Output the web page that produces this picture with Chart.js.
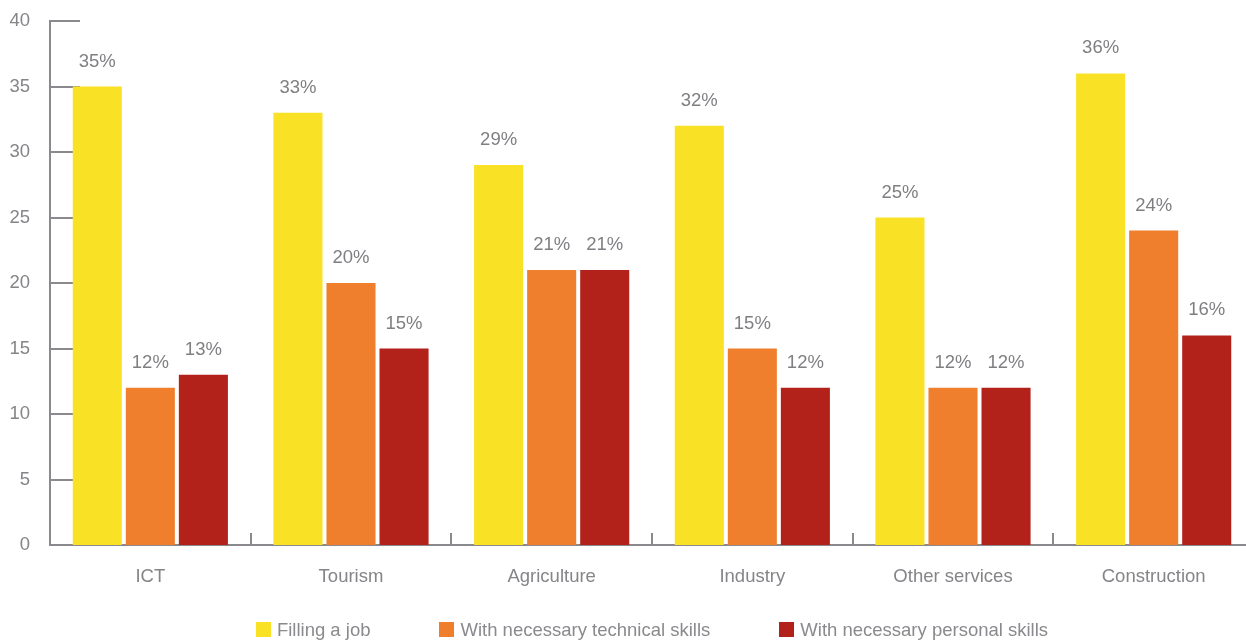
<!DOCTYPE html>
<html>
<head>
<meta charset="utf-8">
<script src="https://cdn.jsdelivr.net/npm/chart.js@4"></script>
<style>
  html, body { margin: 0; padding: 0; background: #fff; overflow: hidden; }
  #wrap { position: relative; width: 1254px; height: 640px; }
  #legend {
    position: absolute; left: 50px; width: 1204px; top: 619px;
    display: flex; justify-content: center; gap: 69px;
    font-family: "Liberation Sans", Arial, sans-serif; font-size: 18.5px; line-height: 21px; color: #8a8a8e;
  }
  #legend .item { display: flex; align-items: center; white-space: nowrap; }
  #legend .box { width: 15px; height: 15px; margin-right: 6px; }
</style>
</head>
<body>
<div id="wrap">
  <canvas id="chart"></canvas>
  <div id="legend"></div>
</div>
<script>
// Data
const categories = ["ICT", "Tourism", "Agriculture", "Industry", "Other services", "Construction"];
const seriesNames = ["Filling a job", "With necessary technical skills", "With necessary personal skills"];
const fillingJob = [35, 33, 29, 32, 25, 36];
const technicalSkills = [12, 20, 21, 15, 12, 24];
const personalSkills = [13, 15, 21, 12, 12, 16];
const yTicks = [0, 5, 10, 15, 20, 25, 30, 35, 40];

const colors = ["#f9e125", "#ef7f2c", "#b2221b"];
const axisColor = "#8a8a8e";
const textColor = "#858589";
const fontFamily = "'Liberation Sans', Arial, sans-serif";
const fontSize = 18.5;

// short tick marks drawn inside the plot area + value labels over the bars
const axisMarks = {
  id: "axisMarks",
  beforeDatasetsDraw(chart) {
    const { ctx, chartArea, scales } = chart;
    ctx.save();
    ctx.strokeStyle = axisColor;
    ctx.lineWidth = 2;
    ctx.beginPath();
    yTicks.forEach(v => {
      const y = Math.round(scales.y.getPixelForValue(v));
      ctx.moveTo(chartArea.left, y);
      ctx.lineTo(chartArea.left + 30, y);
    });
    for (let i = 0; i < categories.length; i++) {
      const x = Math.round((scales.x.getPixelForValue(i) + scales.x.getPixelForValue(i + 1)) / 2);
      ctx.moveTo(x, chartArea.bottom);
      ctx.lineTo(x, chartArea.bottom - 12);
    }
    ctx.stroke();
    ctx.restore();
  },
  afterDatasetsDraw(chart) {
    const { ctx } = chart;
    ctx.save();
    ctx.fillStyle = "#7f7f83";
    ctx.font = fontSize + "px " + fontFamily;
    ctx.textAlign = "center";
    ctx.textBaseline = "middle";
    chart.data.datasets.forEach((ds, di) => {
      chart.getDatasetMeta(di).data.forEach((bar, i) => {
        ctx.fillText(ds.data[i] + "%", bar.x, bar.y - 25);
      });
    });
    ctx.restore();
  }
};

const chart = new Chart(document.getElementById("chart"), {
  type: "bar",
  data: {
    labels: categories,
    datasets: [
      { label: seriesNames[0], data: fillingJob, backgroundColor: colors[0] },
      { label: seriesNames[1], data: technicalSkills, backgroundColor: colors[1] },
      { label: seriesNames[2], data: personalSkills, backgroundColor: colors[2] }
    ]
  },
  options: {
    responsive: true,
    maintainAspectRatio: false,
    animation: false,
    categoryPercentage: 0.793,
    barPercentage: 0.925,
    layout: { padding: { top: 21, right: 0, left: 0, bottom: 0 } },
    plugins: {
      legend: { display: false },
      tooltip: { enabled: false }
    },
    scales: {
      x: {
        grid: { display: false, drawTicks: false },
        border: { color: axisColor, width: 2 },
        ticks: { color: textColor, font: { family: fontFamily, size: fontSize }, padding: 21 },
        afterFit(scale) { scale.height = 95; scale.paddingLeft = 0; scale.paddingRight = 0; }
      },
      y: {
        min: 0, max: 40,
        afterBuildTicks(scale) { scale.ticks = yTicks.map(v => ({ value: v })); },
        grid: { display: false, drawTicks: false },
        border: { color: axisColor, width: 2 },
        ticks: { color: textColor, font: { family: fontFamily, size: fontSize }, padding: 20 },
        afterFit(scale) { scale.width = 50; scale.paddingTop = 0; scale.paddingBottom = 0; }
      }
    }
  },
  plugins: [axisMarks]
});

// HTML legend built from the series names and colours
const legend = document.getElementById("legend");
seriesNames.forEach((name, i) => {
  const item = document.createElement("div");
  item.className = "item";
  const box = document.createElement("span");
  box.className = "box";
  box.style.background = colors[i];
  const label = document.createElement("span");
  label.textContent = name;
  item.appendChild(box);
  item.appendChild(label);
  legend.appendChild(item);
});
</script>
</body>
</html>
